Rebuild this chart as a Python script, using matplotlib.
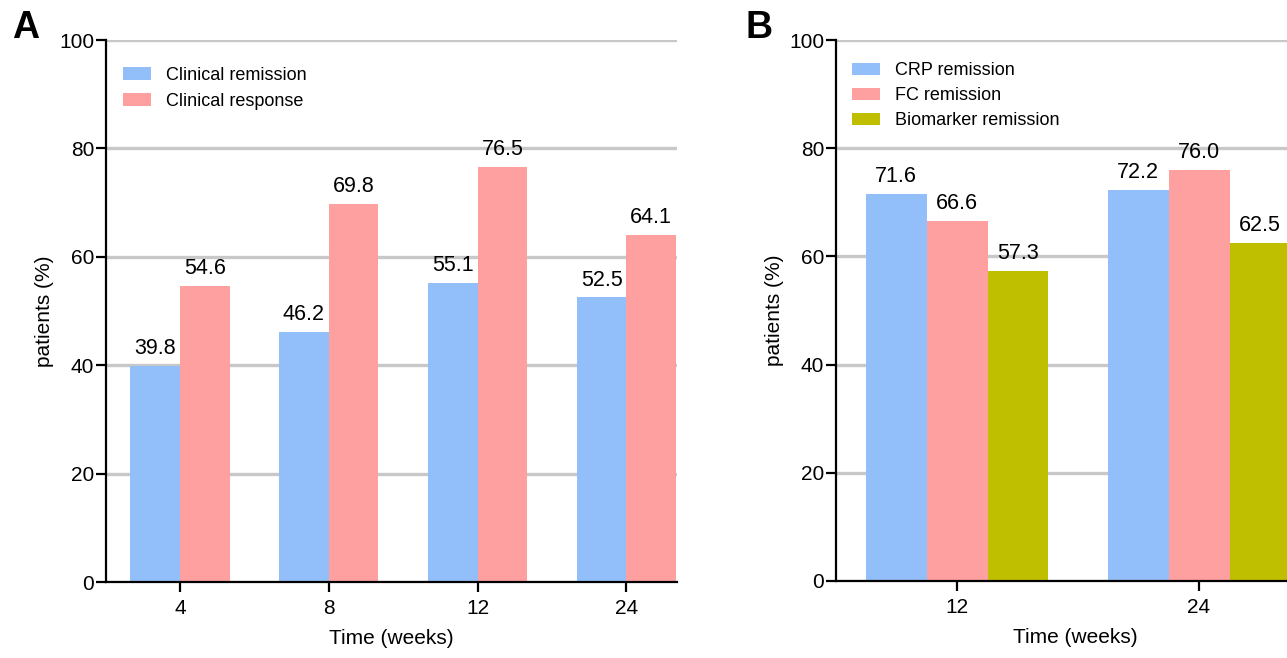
import matplotlib
matplotlib.use('Agg')
import matplotlib.pyplot as plt
import numpy as np

plt.rcParams['font.family'] = ['Liberation Sans', 'DejaVu Sans']

# panel A data
weeks_a = ['4', '8', '12', '24']
clin_remission = [39.8, 46.2, 55.1, 52.5]
clin_response = [54.6, 69.8, 76.5, 64.1]

# panel B data
weeks_b = ['12', '24']
crp_remission = [71.6, 72.2]
fc_remission = [66.6, 76.0]
bio_remission = [57.3, 62.5]

blue = '#92bff9'
pink = '#ffa0a0'
olive = '#bfbf00'
grid_c = '#c8c8c8'

fig = plt.figure(figsize=(12.87, 6.58), dpi=100)
W, H = 1287, 658


def style_axes(ax):
    ax.set_ylim(0, 100)
    ax.set_yticks([0, 20, 40, 60, 80, 100])
    ax.yaxis.grid(True, color=grid_c, linewidth=2.4)
    ax.set_axisbelow(True)
    for s in ['top', 'right']:
        ax.spines[s].set_visible(False)
    for s in ['left', 'bottom']:
        ax.spines[s].set_linewidth(1.6)
    ax.tick_params(axis='both', length=7.5, width=1.6, labelsize=15)
    ax.tick_params(axis='y', pad=1)
    ax.tick_params(axis='x', pad=5)
    ax.set_ylabel('patients (%)', fontsize=15)
    ax.set_xlabel('Time (weeks)', fontsize=15, labelpad=8)


def label_bars(ax, bars, vals):
    for b, v in zip(bars, vals):
        ax.annotate(f'{v:.1f}', (b.get_x() + b.get_width() / 2, v),
                    xytext=(0, 5), textcoords='offset points',
                    ha='center', va='bottom', fontsize=15.5)


leg_kw = dict(loc='upper left', frameon=False, fontsize=13, handlelength=1.55,
              handleheight=0.7, handletextpad=0.85, borderpad=0, borderaxespad=0)

# ---- panel A
axA = fig.add_axes([106 / W, 1 - 582 / H, (677 - 106) / W, (582 - 40) / H])
x = np.arange(len(weeks_a))
w = 0.333
b1 = axA.bar(x - w / 2, clin_remission, w, color=blue, label='Clinical remission')
b2 = axA.bar(x + w / 2, clin_response, w, color=pink, label='Clinical response')
label_bars(axA, b1, clin_remission)
label_bars(axA, b2, clin_response)
axA.set_xticks(x)
axA.set_xticklabels(weeks_a)
axA.set_xlim(-0.497, 3.34)
style_axes(axA)
axA.legend(bbox_to_anchor=(0.030, 0.951), labelspacing=0.5, **leg_kw)

# ---- panel B
axB = fig.add_axes([836 / W, 1 - 581 / H, (1314 - 836) / W, (581 - 40) / H])
xb = np.arange(len(weeks_b))
wb = 0.252
c1 = axB.bar(xb - wb, crp_remission, wb, color=blue, label='CRP remission')
c2 = axB.bar(xb, fc_remission, wb, color=pink, label='FC remission')
c3 = axB.bar(xb + wb, bio_remission, wb, color=olive, label='Biomarker remission')
for bars, vals in [(c1, crp_remission), (c2, fc_remission), (c3, bio_remission)]:
    label_bars(axB, bars, vals)
axB.set_xticks(xb)
axB.set_xticklabels(weeks_b)
axB.set_xlim(-0.5, 1.475)
style_axes(axB)
axB.legend(bbox_to_anchor=(0.0335, 0.959), labelspacing=0.45, **leg_kw)

fig.text(12 / W, 1 - 28 / H, 'A', fontsize=27, fontweight='bold', va='center', ha='left')
fig.text(746 / W, 1 - 28 / H, 'B', fontsize=27, fontweight='bold', va='center', ha='left')

fig.savefig('out.png', dpi=100)
